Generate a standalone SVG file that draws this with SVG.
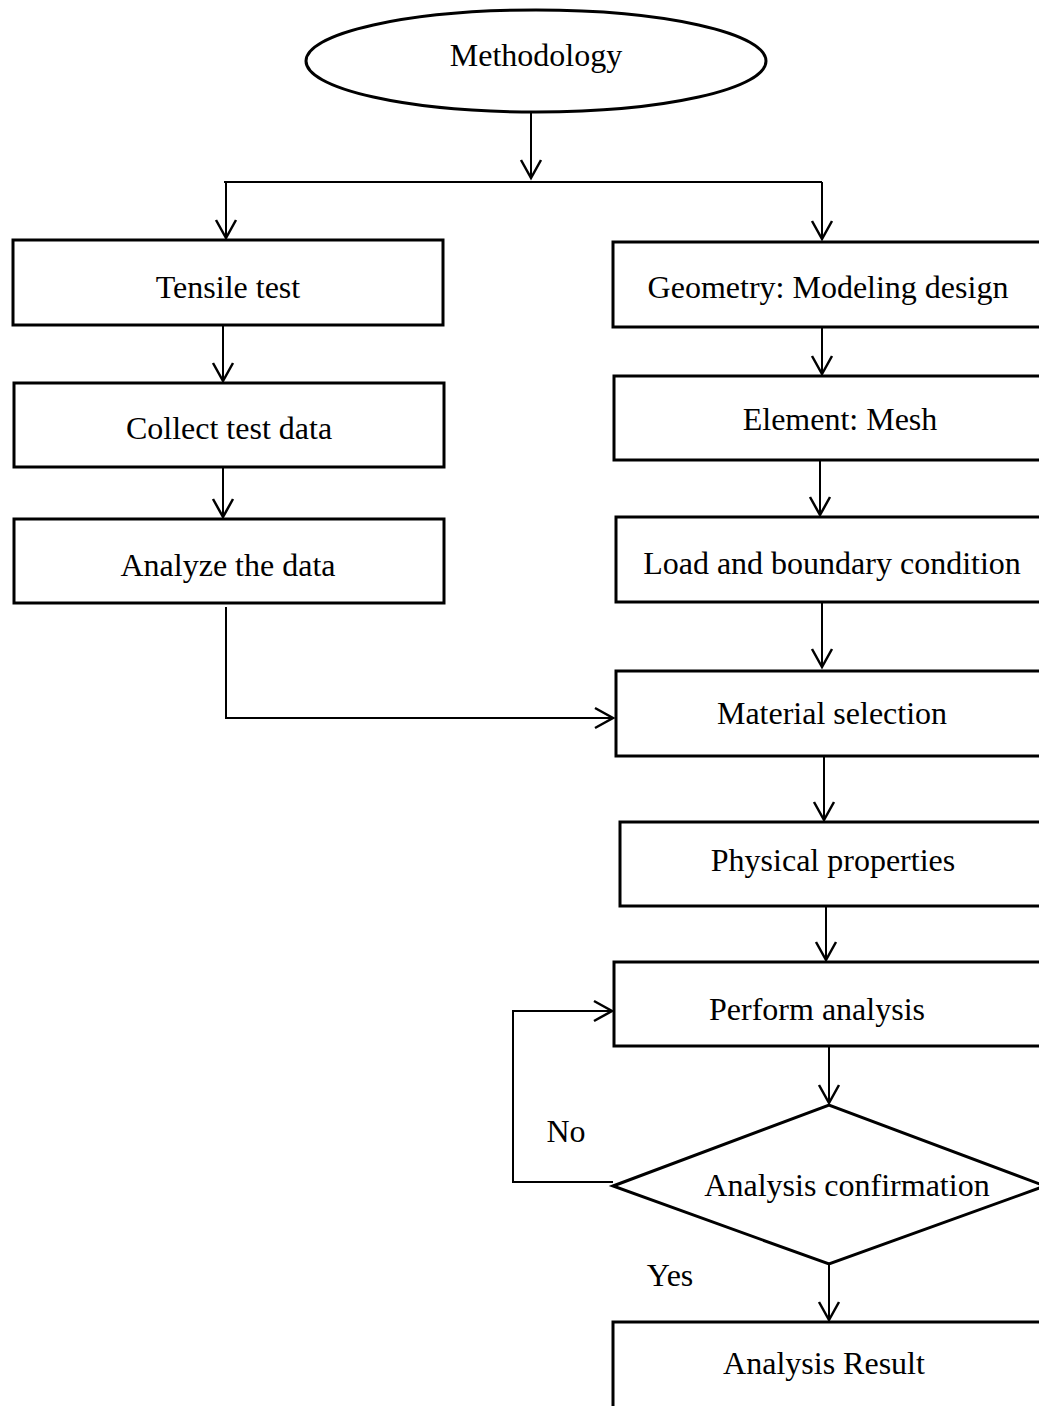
<svg xmlns="http://www.w3.org/2000/svg" width="1039" height="1406" viewBox="0 0 1039 1406">
<style>
.n{fill:#fff;stroke:#000;stroke-width:3}
.t{font-family:"Liberation Serif","Times New Roman",serif;font-size:32px;fill:#000;text-anchor:middle}
.c{fill:none;stroke:#000;stroke-width:2}
</style>
<defs>
<marker id="a" markerUnits="userSpaceOnUse" markerWidth="24" markerHeight="24" viewBox="-20 -12 24 24" refX="0" refY="0" orient="auto" overflow="visible">
<path d="M-18,-10 L0,0 L-18,10" fill="none" stroke="#000" stroke-width="2.5"/>
</marker>
</defs>
<rect width="1039" height="1406" fill="#fff"/>
<g id="connectors">
<line class="c" x1="531" y1="112" x2="531" y2="178" marker-end="url(#a)"/>
<line class="c" x1="224" y1="182" x2="822" y2="182"/>
<line class="c" x1="226" y1="182" x2="226" y2="238" marker-end="url(#a)"/>
<line class="c" x1="822" y1="182" x2="822" y2="239" marker-end="url(#a)"/>
<line class="c" x1="223" y1="325" x2="223" y2="381" marker-end="url(#a)"/>
<line class="c" x1="223" y1="467" x2="223" y2="517" marker-end="url(#a)"/>
<polyline class="c" points="226,607 226,718 613,718" marker-end="url(#a)"/>
<line class="c" x1="822" y1="320" x2="822" y2="374" marker-end="url(#a)"/>
<line class="c" x1="820" y1="460" x2="820" y2="515" marker-end="url(#a)"/>
<line class="c" x1="822" y1="602" x2="822" y2="667" marker-end="url(#a)"/>
<line class="c" x1="824" y1="756" x2="824" y2="820" marker-end="url(#a)"/>
<line class="c" x1="826" y1="906" x2="826" y2="960" marker-end="url(#a)"/>
<line class="c" x1="829" y1="1046" x2="829" y2="1103" marker-end="url(#a)"/>
<line class="c" x1="829" y1="1264" x2="829" y2="1320" marker-end="url(#a)"/>
<polyline class="c" points="613,1182 513,1182 513,1011 612,1011" marker-end="url(#a)"/>
<text class="t" x="566" y="1142">No</text>
<text class="t" x="670" y="1286">Yes</text>
</g>
<g id="methodology"><ellipse class="n" cx="536" cy="61" rx="230" ry="51"/><text class="t" x="536" y="66">Methodology</text></g>
<g id="tensile"><rect class="n" x="13" y="240" width="430" height="85"/><text class="t" x="228" y="298">Tensile test</text></g>
<g id="collect"><rect class="n" x="14" y="383" width="430" height="84"/><text class="t" x="229" y="439">Collect test data</text></g>
<g id="analyze"><rect class="n" x="14" y="519" width="430" height="84"/><text class="t" x="228" y="576">Analyze the data</text></g>
<g id="geometry"><rect class="n" x="613" y="242" width="440" height="85"/><text class="t" x="828" y="298">Geometry: Modeling design</text></g>
<g id="mesh"><rect class="n" x="614" y="376" width="440" height="84"/><text class="t" x="840" y="430">Element: Mesh</text></g>
<g id="load"><rect class="n" x="616" y="517" width="440" height="85"/><text class="t" x="832" y="574">Load and boundary condition</text></g>
<g id="material"><rect class="n" x="616" y="671" width="440" height="85"/><text class="t" x="832" y="724">Material selection</text></g>
<g id="physical"><rect class="n" x="620" y="822" width="440" height="84"/><text class="t" x="833" y="871">Physical properties</text></g>
<g id="perform"><rect class="n" x="614" y="962" width="440" height="84"/><text class="t" x="817" y="1020">Perform analysis</text></g>
<g id="confirm"><polygon class="n" points="613,1186 829,1105 1045,1186 829,1264"/><text class="t" x="847" y="1196">Analysis confirmation</text></g>
<g id="result"><rect class="n" x="613" y="1322" width="440" height="100"/><text class="t" x="824" y="1374">Analysis Result</text></g>
</svg>
